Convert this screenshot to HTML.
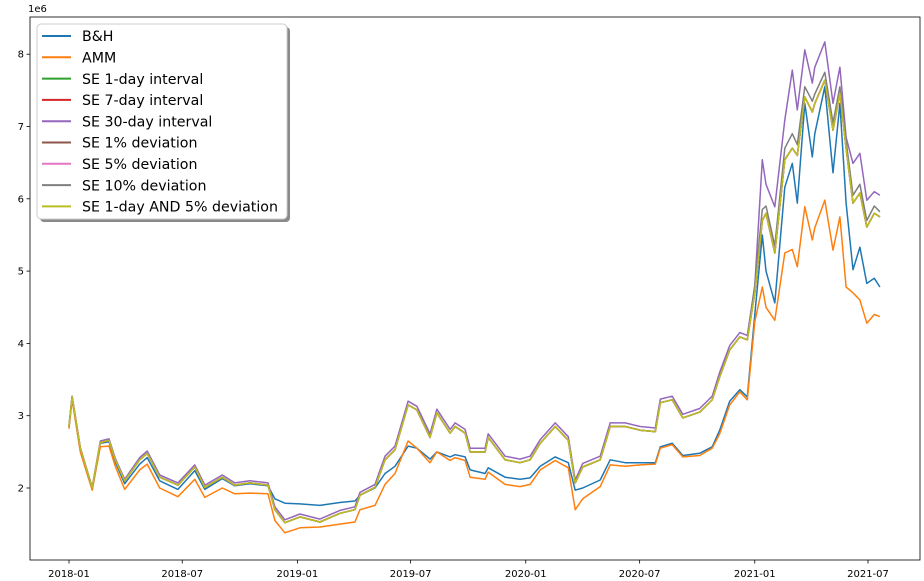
<!DOCTYPE html>
<html><head><meta charset="utf-8"><style>
html,body{margin:0;padding:0;background:#fff;}
svg{display:block;font-family:"DejaVu Sans","Liberation Sans",sans-serif;}
</style></head><body>
<svg id="chart" width="924" height="581">
<g id="marks"></g>
<g id="axes"></g>
<g id="legend"></g>
</svg>
<script>
const days = [0,5,18,37,50,64,74,89,113,125,145,174,201,217,245,265,289,318,329,345,369,401,433,457,465,489,505,521,542,556,577,588,609,617,633,641,665,670,697,721,737,753,777,798,809,821,849,865,889,913,937,945,964,981,1008,1028,1040,1056,1072,1084,1096,1108,1114,1128,1144,1156,1164,1176,1188,1192,1208,1221,1232,1242,1253,1264,1275,1287,1296];
const bhValues = [2.85,3.26,2.55,2.0,2.62,2.64,2.36,2.06,2.33,2.42,2.1,1.98,2.24,1.98,2.13,2.03,2.06,2.03,1.85,1.79,1.78,1.76,1.8,1.82,1.9,2.0,2.2,2.3,2.58,2.55,2.4,2.5,2.43,2.46,2.43,2.25,2.2,2.28,2.15,2.12,2.14,2.3,2.43,2.35,1.97,2.0,2.11,2.39,2.35,2.35,2.35,2.57,2.62,2.45,2.48,2.57,2.8,3.2,3.36,3.26,4.4,5.5,5.0,4.56,6.16,6.49,5.94,7.32,6.58,6.9,7.55,6.36,7.32,5.94,5.02,5.33,4.83,4.9,4.78];
const ammValues = [2.82,3.22,2.5,1.97,2.57,2.58,2.3,1.98,2.25,2.33,2.0,1.88,2.12,1.87,2.0,1.92,1.93,1.92,1.55,1.38,1.45,1.46,1.5,1.53,1.7,1.76,2.05,2.2,2.65,2.55,2.35,2.5,2.38,2.42,2.38,2.15,2.12,2.22,2.05,2.02,2.05,2.25,2.38,2.28,1.7,1.85,2.02,2.32,2.3,2.32,2.33,2.55,2.6,2.43,2.45,2.55,2.75,3.15,3.33,3.22,4.3,4.78,4.5,4.32,5.25,5.3,5.06,5.89,5.43,5.6,5.98,5.29,5.75,4.78,4.7,4.6,4.28,4.4,4.37];
const se1dValues = [2.85,3.26,2.55,2.0,2.63,2.66,2.39,2.1,2.39,2.48,2.15,2.04,2.29,2.01,2.15,2.04,2.07,2.04,1.7,1.52,1.6,1.53,1.65,1.7,1.9,2.01,2.39,2.53,3.15,3.08,2.7,3.04,2.76,2.85,2.76,2.5,2.5,2.7,2.39,2.35,2.39,2.62,2.85,2.66,2.07,2.29,2.39,2.85,2.85,2.8,2.78,3.18,3.22,2.97,3.05,3.22,3.54,3.91,4.09,4.05,4.7,5.7,5.8,5.25,6.54,6.7,6.6,7.41,7.2,7.32,7.64,6.95,7.46,6.7,5.94,6.08,5.61,5.8,5.75];
const se7dValues = [2.85,3.26,2.55,2.0,2.63,2.66,2.39,2.1,2.39,2.48,2.15,2.04,2.29,2.01,2.15,2.04,2.07,2.04,1.7,1.52,1.6,1.53,1.65,1.7,1.9,2.01,2.39,2.53,3.15,3.08,2.7,3.04,2.76,2.85,2.76,2.5,2.5,2.7,2.39,2.35,2.39,2.62,2.85,2.66,2.07,2.29,2.39,2.85,2.85,2.8,2.78,3.18,3.22,2.97,3.05,3.22,3.54,3.91,4.09,4.05,4.7,5.7,5.8,5.25,6.54,6.7,6.6,7.41,7.2,7.32,7.64,6.95,7.46,6.7,5.94,6.08,5.61,5.8,5.75];
const se30dValues = [2.86,3.27,2.56,2.01,2.65,2.68,2.41,2.12,2.42,2.51,2.18,2.07,2.32,2.04,2.18,2.07,2.1,2.07,1.74,1.56,1.64,1.57,1.69,1.74,1.94,2.05,2.44,2.58,3.2,3.13,2.75,3.09,2.81,2.9,2.81,2.55,2.55,2.75,2.44,2.4,2.44,2.67,2.9,2.71,2.11,2.34,2.44,2.9,2.9,2.85,2.83,3.23,3.27,3.02,3.1,3.27,3.6,3.97,4.15,4.11,4.8,6.54,6.2,5.89,7.09,7.78,7.23,8.06,7.6,7.82,8.17,7.32,7.82,6.85,6.49,6.63,5.98,6.1,6.05];
const se1pctValues = [2.85,3.26,2.55,2.0,2.63,2.66,2.39,2.1,2.39,2.48,2.15,2.04,2.29,2.01,2.15,2.04,2.07,2.04,1.7,1.52,1.6,1.53,1.65,1.7,1.9,2.01,2.39,2.53,3.15,3.08,2.7,3.04,2.76,2.85,2.76,2.5,2.5,2.7,2.39,2.35,2.39,2.62,2.85,2.66,2.07,2.29,2.39,2.85,2.85,2.8,2.78,3.18,3.22,2.97,3.05,3.22,3.54,3.91,4.09,4.05,4.7,5.7,5.8,5.25,6.54,6.7,6.6,7.41,7.2,7.32,7.64,6.95,7.46,6.7,5.94,6.08,5.61,5.8,5.75];
const se5pctValues = [2.85,3.26,2.55,2.0,2.63,2.66,2.39,2.1,2.39,2.48,2.15,2.04,2.29,2.01,2.15,2.04,2.07,2.04,1.7,1.52,1.6,1.53,1.65,1.7,1.9,2.01,2.39,2.53,3.15,3.08,2.7,3.04,2.76,2.85,2.76,2.5,2.5,2.7,2.39,2.35,2.39,2.62,2.85,2.66,2.07,2.29,2.39,2.85,2.85,2.8,2.78,3.18,3.22,2.97,3.05,3.22,3.54,3.91,4.09,4.05,4.7,5.7,5.8,5.25,6.54,6.7,6.6,7.41,7.2,7.32,7.64,6.95,7.46,6.7,5.94,6.08,5.61,5.8,5.75];
const se10pctValues = [2.85,3.26,2.55,2.0,2.63,2.66,2.39,2.1,2.39,2.48,2.15,2.04,2.29,2.01,2.15,2.04,2.07,2.04,1.7,1.52,1.6,1.53,1.65,1.7,1.9,2.01,2.39,2.53,3.15,3.08,2.7,3.04,2.76,2.85,2.76,2.5,2.5,2.7,2.39,2.35,2.39,2.62,2.85,2.66,2.07,2.29,2.39,2.85,2.85,2.8,2.78,3.18,3.22,2.97,3.05,3.22,3.54,3.91,4.09,4.05,4.8,5.85,5.9,5.35,6.7,6.9,6.75,7.55,7.35,7.45,7.75,7.05,7.55,6.8,6.05,6.2,5.7,5.9,5.82];
const seComboValues = [2.85,3.26,2.55,2.0,2.63,2.66,2.39,2.1,2.39,2.48,2.15,2.04,2.29,2.01,2.15,2.04,2.07,2.04,1.7,1.52,1.6,1.53,1.65,1.7,1.9,2.01,2.39,2.53,3.15,3.08,2.7,3.04,2.76,2.85,2.76,2.5,2.5,2.7,2.39,2.35,2.39,2.62,2.85,2.66,2.07,2.29,2.39,2.85,2.85,2.8,2.78,3.18,3.22,2.97,3.05,3.22,3.54,3.91,4.09,4.05,4.7,5.7,5.8,5.25,6.54,6.7,6.6,7.41,7.2,7.32,7.64,6.95,7.46,6.7,5.94,6.08,5.61,5.8,5.75];
const seriesLabels = ["B&H","AMM","SE 1-day interval","SE 7-day interval","SE 30-day interval","SE 1% deviation","SE 5% deviation","SE 10% deviation","SE 1-day AND 5% deviation"];
const yTicks = [2,3,4,5,6,7,8];
const xTickLabels = ["2018-01","2018-07","2019-01","2019-07","2020-01","2020-07","2021-01","2021-07"];
const xTickDays = [0,181,365,546,730,912,1096,1277];

const colors = ["#1f77b4","#ff7f0e","#2ca02c","#d62728","#9467bd","#8c564b","#e377c2","#7f7f7f","#bcbd22"];
const allSeries = [bhValues,ammValues,se1dValues,se7dValues,se30dValues,se1pctValues,se5pctValues,se10pctValues,seComboValues];
const names = ["bh","amm","se-1day","se-7day","se-30day","se-1pct","se-5pct","se-10pct","se-1day-5pct"];
const PL=30,PT=17,PR=920,PB=560;
function xScale(d){return 69 + d*0.6257;}
function yScale(v){return 488 - (v-2)*72.3;}
const NS="http://www.w3.org/2000/svg";
function mk(tag,attrs,parent){const e=document.createElementNS(NS,tag);for(const k in attrs)e.setAttribute(k,attrs[k]);parent.appendChild(e);return e;}
const marks=document.getElementById('marks'),axes=document.getElementById('axes'),legend=document.getElementById('legend');
const drawOrder=[0,1,2,3,4,5,6,7,8];
drawOrder.forEach(i=>{
  const pts=allSeries[i].map((v,j)=>xScale(days[j]).toFixed(1)+','+yScale(v).toFixed(1)).join(' ');
  const pl=mk('polyline',{points:pts,fill:'none',stroke:colors[i],'stroke-width':1.5,'stroke-linejoin':'round'},marks);
  
  
});
const frame=mk('rect',{x:PL,y:PT,width:PR-PL,height:PB-PT,fill:'none',stroke:'#000','stroke-width':0.8},axes);


yTicks.forEach(t=>{
  const y=yScale(t);
  const tk=mk('line',{x1:PL-3.5,x2:PL,y1:y,y2:y,stroke:'#000','stroke-width':0.8},axes);
  
  
  const tx=mk('text',{x:PL-6,y:y+3.5,'text-anchor':'end','font-size':10,fill:'#000'},axes);
  tx.textContent=t;
  
  
});
xTickDays.forEach((d,i)=>{
  const x=xScale(d);
  const tk=mk('line',{x1:x,x2:x,y1:PB,y2:PB+3.5,stroke:'#000','stroke-width':0.8},axes);
  
  
  const tx=mk('text',{x:x,y:PB+17,'text-anchor':'middle','font-size':10,fill:'#000'},axes);
  tx.textContent=xTickLabels[i];
  
  
});
const off=mk('text',{x:PL-2,y:PT-5,'font-size':10,fill:'#000'},axes);
off.textContent='1e6';


const sh=mk('rect',{x:40,y:27,width:250,height:195,rx:4,fill:'#8a8a8a'},legend);


const lb=mk('rect',{x:37,y:24,width:250,height:195,rx:4,fill:'#fff',stroke:'#ccc','stroke-width':1},legend);


seriesLabels.forEach((s,i)=>{
  const y=36+i*21.3;
  const g=mk('g',{},legend);
  
  
  mk('line',{x1:42,x2:71,y1:y,y2:y,stroke:colors[i],'stroke-width':2},g);
  const t=mk('text',{x:82,y:y+5.2,'font-size':14.2,fill:'#000'},g);
  t.textContent=s;
});
</script>
</body></html>
